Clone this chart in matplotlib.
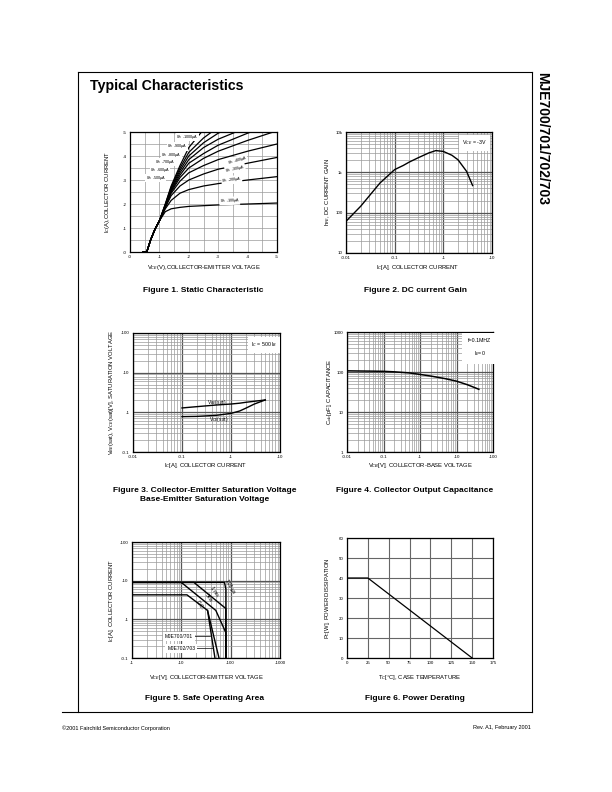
import matplotlib
matplotlib.use('Agg')
import matplotlib.pyplot as plt
from matplotlib.lines import Line2D
from matplotlib.ticker import LogLocator, NullFormatter
import numpy as np

plt.rcParams['font.family'] = ['Liberation Sans', 'DejaVu Sans']

W, H = 612, 792

#################################################
#                    DATA                       #
#################################################
# Fig 1 - static characteristic, VCE [V] vs IC [A] (magnitudes)
fig1_vce = [0.45, 0.57, 0.7, 0.85, 1.0, 1.2, 1.4, 1.7, 2.0, 2.5, 3.0, 4.0, 5.0]
fig1_ib = [100, 200, 300, 400, 500, 600, 700, 800, 900, 1000]
fig1_ic = {
    100:  [0, 0, 0.5, 0.95, 1.3, 1.68, 1.8, 1.86, 1.9, 1.93, 1.96, 2.0, 2.04],
    200:  [0, 0, 0.5, 0.95, 1.3, 1.8, 2.15, 2.45, 2.6, 2.75, 2.85, 3.0, 3.14],
    300:  [0, 0, 0.5, 0.95, 1.3, 1.85, 2.35, 2.75, 3.0, 3.25, 3.45, 3.7, 3.94],
    400:  [0, 0, 0.5, 0.95, 1.3, 1.88, 2.45, 2.95, 3.3, 3.6, 3.85, 4.2, 4.5],
    500:  [0, 0, 0.5, 0.95, 1.3, 1.9, 2.5, 3.1, 3.5, 3.9, 4.2, 4.65, 5.05],
    600:  [0, 0, 0.5, 0.95, 1.3, 1.92, 2.55, 3.2, 3.7, 4.1, 4.45, 4.95, 5.4],
    700:  [0, 0, 0.5, 0.95, 1.3, 1.94, 2.6, 3.3, 3.85, 4.35, 4.7, 5.2, 5.6],
    800:  [0, 0, 0.5, 0.95, 1.3, 1.96, 2.65, 3.4, 4.0, 4.55, 4.95, 5.5, 5.9],
    900:  [0, 0, 0.5, 0.95, 1.3, 1.98, 2.7, 3.5, 4.15, 4.75, 5.2, 5.8, 6.2],
    1000: [0, 0, 0.5, 0.95, 1.3, 2.0, 2.75, 3.6, 4.35, 5.1, 5.6, 6.2, 6.6],
}
fig1_lin_ticks = [0, 1, 2, 3, 4, 5]
fig1_lin_labels = ['-0', '-1', '-2', '-3', '-4', '-5']

# Fig 2 - DC current gain
fig2_ic = [0.01, 0.02, 0.05, 0.1, 0.15, 0.2, 0.3, 0.5, 0.7, 1.0, 1.5, 2.0, 3.0, 4.0]
fig2_hfe = [61, 144, 545, 1170, 1480, 1800, 2280, 3020, 3460, 3300, 2650, 2050, 1060, 470]
fig2_xticks = [0.01, 0.1, 1, 10]
fig2_xlabels = ['-0.01', '-0.1', '-1', '-10']
fig2_yticks = [10, 100, 1000, 10000]
fig2_ylabels = ['10', '100', '1k', '10k']

# Fig 3 - saturation voltages
fig3_ic = [0.1, 0.2, 0.5, 1.0, 1.5, 2.0, 3.0, 5.0]
fig3_vbe = [1.29, 1.39, 1.53, 1.62, 1.7, 1.79, 1.9, 2.05]
fig3_vce = [0.78, 0.79, 0.84, 0.94, 1.08, 1.27, 1.62, 2.05]
fig3_xticks = [0.01, 0.1, 1, 10]
fig3_xlabels = ['-0.01', '-0.1', '-1', '-10']
fig3_yticks = [0.1, 1, 10, 100]
fig3_ylabels = ['-0.1', '-1', '-10', '-100']

# Fig 4 - collector output capacitance
fig4_vcb = [0.01, 0.02, 0.05, 0.1, 0.2, 0.5, 1.0, 2.0, 5.0, 10, 20, 41]
fig4_cob = [107, 106, 105, 104, 101, 95, 87, 79, 68, 59, 48, 37]
fig4_xticks = [0.01, 0.1, 1, 10, 100]
fig4_xlabels = ['-0.01', '-0.1', '-1', '-10', '-100']
fig4_yticks = [1, 10, 100, 1000]
fig4_ylabels = ['1', '10', '100', '1000']

# Fig 5 - safe operating area
soa_100us_v = [1, 75, 80, 80]
soa_100us_i = [9.0, 9.0, 6.0, 0.1]
soa_1ms_v = [1, 18, 80, 80]
soa_1ms_i = [9.0, 9.0, 1.9, 0.1]
soa_5ms_v = [1, 10, 50, 80, 80]
soa_5ms_i = [9.0, 9.0, 1.7, 0.45, 0.1]
soa_dc_v = [1, 13, 34, 48]
soa_dc_i = [4.3, 4.3, 1.7, 0.1]
soa_dc2_v = [34, 58]
soa_dc2_i = [1.7, 0.1]
fig5_xticks = [1, 10, 100, 1000]
fig5_xlabels = ['-1', '-10', '-100', '-1000']
fig5_yticks = [0.1, 1, 10, 100]
fig5_ylabels = ['-0.1', '-1', '-10', '-100']

# Fig 6 - power derating
fig6_tc = [0, 25, 150]
fig6_pc = [40, 40, 0]
fig6_xticks = [0, 25, 50, 75, 100, 125, 150, 175]
fig6_yticks = [0, 10, 20, 30, 40, 50, 60]

#################################################
#                   HELPERS                     #
#################################################
fig = plt.figure(figsize=(W / 100, H / 100), dpi=100)

def box(x0, y0, x1, y1):
    return fig.add_axes([x0 / W, 1 - y1 / H, (x1 - x0) / W, (y1 - y0) / H])

def ftext(x, y, s, **kw):
    kw.setdefault('ha', 'center')
    kw.setdefault('va', 'center')
    fig.text(x / W, 1 - y / H, s, **kw)

def fline(xs, ys, **kw):
    fig.add_artist(Line2D([x / W for x in xs], [1 - y / H for y in ys],
                          transform=fig.transFigure, color='black', **kw))

TICK = 3.2
LAB = 4.2
CAP = 6.0

def style(ax):
    for s in ax.spines.values():
        s.set_linewidth(0.9)
    ax.tick_params(which='both', length=0, labelsize=TICK, pad=2.5)
    ax.set_axisbelow(True)

def loggrid(ax, logx=True, logy=True):
    if logx:
        ax.set_xscale('log')
        ax.xaxis.set_minor_locator(LogLocator(base=10, subs=np.arange(2, 10)))
        ax.xaxis.set_minor_formatter(NullFormatter())
    if logy:
        ax.set_yscale('log')
        ax.yaxis.set_minor_locator(LogLocator(base=10, subs=np.arange(2, 10)))
        ax.yaxis.set_minor_formatter(NullFormatter())
    ax.grid(which='major', color='#555555', lw=0.9)
    ax.grid(which='minor', color='#9a9a9a', lw=0.5)

def boxed(ax, x, y, s, **kw):
    ax.text(x, y, s, transform=ax.transAxes, fontsize=3.8, ha='center', va='center',
            bbox=dict(boxstyle='square,pad=0.6', fc='white', ec='none'), **kw)

#################################################
#                    FIG 1                      #
#################################################
ax1 = box(130, 132, 277, 252)
style(ax1)
for ib in fig1_ib:
    ax1.plot(fig1_vce, fig1_ic[ib], color='black', lw=0.9)
ax1.set_xlim(0, 5)
ax1.set_ylim(0, 5)
ax1.set_xticks(fig1_lin_ticks, fig1_lin_labels)
ax1.set_yticks(fig1_lin_ticks, fig1_lin_labels)
ax1.set_xticks(np.arange(0.5, 5, 1.0), minor=True)
ax1.set_yticks(np.arange(0.5, 5, 1.0), minor=True)
ax1.grid(which='both', color='#9a9a9a', lw=0.5)
lbl_kw = dict(fontsize=2.7, ha='center', va='center',
              bbox=dict(boxstyle='square,pad=0.05', fc='white', ec='none'))
ax1.text(1.95, 4.8, u'I$_B$= -1000\u00b5A', **lbl_kw)
ax1.text(1.62, 4.4, u'I$_B$= -900\u00b5A', **lbl_kw)
ax1.text(1.40, 4.06, u'I$_B$= -800\u00b5A', **lbl_kw)
ax1.text(1.20, 3.74, u'I$_B$= -700\u00b5A', **lbl_kw)
ax1.text(1.02, 3.40, u'I$_B$= -600\u00b5A', **lbl_kw)
ax1.text(0.88, 3.08, u'I$_B$= -500\u00b5A', **lbl_kw)
ax1.text(3.65, 3.82, u'I$_B$= -400\u00b5A', rotation=16, **lbl_kw)
ax1.text(3.57, 3.48, u'I$_B$= -300\u00b5A', rotation=12, **lbl_kw)
ax1.text(3.46, 3.0, u'I$_B$= -200\u00b5A', rotation=7, **lbl_kw)
ax1.text(3.39, 2.13, u'I$_B$= -100\u00b5A', rotation=2, **lbl_kw)
ftext(204, 267, 'V$_{CE}$(V),COLLECTOR-EMITTER VOLTAGE', fontsize=LAB)
ftext(107, 192, 'I$_C$(A),COLLECTOR CURRENT', fontsize=LAB, rotation=90)
ftext(203, 291, 'Figure 1. Static Characteristic', fontsize=CAP, fontweight='bold')

#################################################
#                    FIG 2                      #
#################################################
ax2 = box(346, 132, 492, 253)
style(ax2)
loggrid(ax2)
ax2.plot(fig2_ic, fig2_hfe, color='black', lw=1.0)
ax2.set_xlim(0.01, 10)
ax2.set_ylim(10, 10000)
ax2.set_xticks(fig2_xticks, fig2_xlabels)
ax2.set_yticks(fig2_yticks, fig2_ylabels)
boxed(ax2, 0.88, 0.91, 'V$_{CE}$ = -3V')
ftext(418, 267, 'I$_C$[A], COLLECTOR CURRENT', fontsize=LAB)
ftext(328, 192, 'h$_{FE}$, DC CURRENT GAIN', fontsize=LAB, rotation=90)
ftext(415, 291, 'Figure 2. DC current Gain', fontsize=CAP, fontweight='bold')

#################################################
#                    FIG 3                      #
#################################################
ax3 = box(133, 333, 280, 452)
style(ax3)
loggrid(ax3)
ax3.plot(fig3_ic, fig3_vbe, color='black', lw=1.0)
ax3.plot(fig3_ic, fig3_vce, color='black', lw=1.0)
ax3.set_xlim(0.01, 10)
ax3.set_ylim(0.1, 100)
ax3.set_xticks(fig3_xticks, fig3_xlabels)
ax3.set_yticks(fig3_yticks, fig3_ylabels)
ax3.text(0.5, 1.78, 'V$_{BE}$(sat)', fontsize=3.5, ha='center', va='center')
ax3.text(0.55, 0.66, 'V$_{CE}$(sat)', fontsize=3.5, ha='center', va='center')
boxed(ax3, 0.89, 0.9, 'I$_C$ = 500 I$_B$')
ftext(206, 466, 'I$_C$[A], COLLECTOR CURRENT', fontsize=LAB)
ftext(111, 392, 'V$_{BE}$(sat), V$_{CE}$(sat)[V], SATURATION VOLTAGE', fontsize=LAB, rotation=90)
ftext(205, 490, 'Figure 3. Collector-Emitter Saturation Voltage', fontsize=CAP, fontweight='bold')
ftext(205, 500, 'Base-Emitter Saturation Voltage', fontsize=CAP, fontweight='bold')

#################################################
#                    FIG 4                      #
#################################################
ax4 = box(347, 332, 493, 452)
style(ax4)
loggrid(ax4)
ax4.plot(fig4_vcb, fig4_cob, color='black', lw=1.1)
ax4.set_xlim(0.01, 100)
ax4.set_ylim(1, 1000)
ax4.set_xticks(fig4_xticks, fig4_xlabels)
ax4.set_yticks(fig4_yticks, fig4_ylabels)
ax4.text(0.91, 0.87, 'f=0.1MHZ\nI$_E$=0', transform=ax4.transAxes, fontsize=3.8,
         ha='center', va='center', linespacing=2.0,
         bbox=dict(boxstyle='square,pad=1.2', fc='white', ec='none'))
ftext(420, 466, 'V$_{CB}$[V], COLLECTOR-BASE VOLTAGE', fontsize=LAB)
ftext(330, 392, 'C$_{ob}$[pF], CAPACITANCE', fontsize=LAB, rotation=90)
ftext(415, 490, 'Figure 4. Collector Output Capacitance', fontsize=CAP, fontweight='bold')

#################################################
#                    FIG 5                      #
#################################################
ax5 = box(132, 542, 280, 658)
style(ax5)
loggrid(ax5)
for v, i in [(soa_100us_v, soa_100us_i), (soa_1ms_v, soa_1ms_i), (soa_5ms_v, soa_5ms_i),
             (soa_dc_v, soa_dc_i), (soa_dc2_v, soa_dc2_i)]:
    ax5.plot(v, i, color='black', lw=1.0)
ax5.set_xlim(1, 1000)
ax5.set_ylim(0.1, 100)
ax5.set_xticks(fig5_xticks, fig5_xlabels)
ax5.set_yticks(fig5_yticks, fig5_ylabels)
ax5.text(95, 7.0, u'100 \u00b5s', fontsize=3.6, rotation=-60, ha='center', va='center')
ax5.text(46, 5.2, '1 ms', fontsize=3.6, rotation=-55, ha='center', va='center')
ax5.text(36, 3.6, '5ms', fontsize=3.6, rotation=-55, ha='center', va='center')
ax5.text(24, 2.3, 'D.C.', fontsize=3.6, rotation=-55, ha='center', va='center')
ax5.text(9, 0.37, 'MJE700/701', fontsize=3.6, ha='center', va='center',
         bbox=dict(boxstyle='square,pad=0.4', fc='white', ec='none'))
ax5.text(10, 0.18, 'MJE702/703', fontsize=3.6, ha='center', va='center',
         bbox=dict(boxstyle='square,pad=0.4', fc='white', ec='none'))
ax5.plot([17, 38], [0.37, 0.37], color='black', lw=0.5)
ax5.plot([19, 44], [0.18, 0.18], color='black', lw=0.5)
ftext(206, 677, 'V$_{CE}$[V], COLLECTOR-EMITTER VOLTAGE', fontsize=LAB)
ftext(112, 600, 'I$_C$[A], COLLECTOR CURRENT', fontsize=LAB, rotation=90)
ftext(205, 698, 'Figure 5. Safe Operating Area', fontsize=CAP, fontweight='bold')

#################################################
#                    FIG 6                      #
#################################################
ax6 = box(347, 538, 493, 658)
style(ax6)
ax6.plot(fig6_tc, fig6_pc, color='black', lw=0.9)
ax6.set_xlim(0, 175)
ax6.set_ylim(0, 60)
ax6.set_xticks(fig6_xticks, [str(t) for t in fig6_xticks])
ax6.set_yticks(fig6_yticks, [str(t) for t in fig6_yticks])
ax6.grid(color='#666666', lw=0.8)
ftext(420, 677, u'T$_C$[\u00b0C], CASE TEMPERATURE', fontsize=LAB)
ftext(328, 598, 'P$_C$[W], POWER DISSIPATION', fontsize=LAB, rotation=90)
ftext(415, 698, 'Figure 6. Power Derating', fontsize=CAP, fontweight='bold')

#################################################
#                 PAGE FRAME                    #
#################################################
fline([78, 532], [72, 72], lw=0.8)
fline([78, 78], [72, 712], lw=0.8)
fline([532, 532], [72, 712], lw=0.8)
fline([62, 532], [712, 712], lw=0.8)
ftext(90, 86, 'Typical Characteristics', fontsize=10.2, fontweight='bold', ha='left')
ftext(542, 72, 'MJE700/701/702/703', fontsize=10.0, fontweight='bold',
      rotation=-90, va='top', ha='center')
ftext(62, 728, u'\u00a92001 Fairchild Semiconductor Corporation', fontsize=4.0, ha='left')
ftext(531, 728, 'Rev. A1, February 2001', fontsize=4.0, ha='right')

fig.savefig('out.png', dpi=100)
